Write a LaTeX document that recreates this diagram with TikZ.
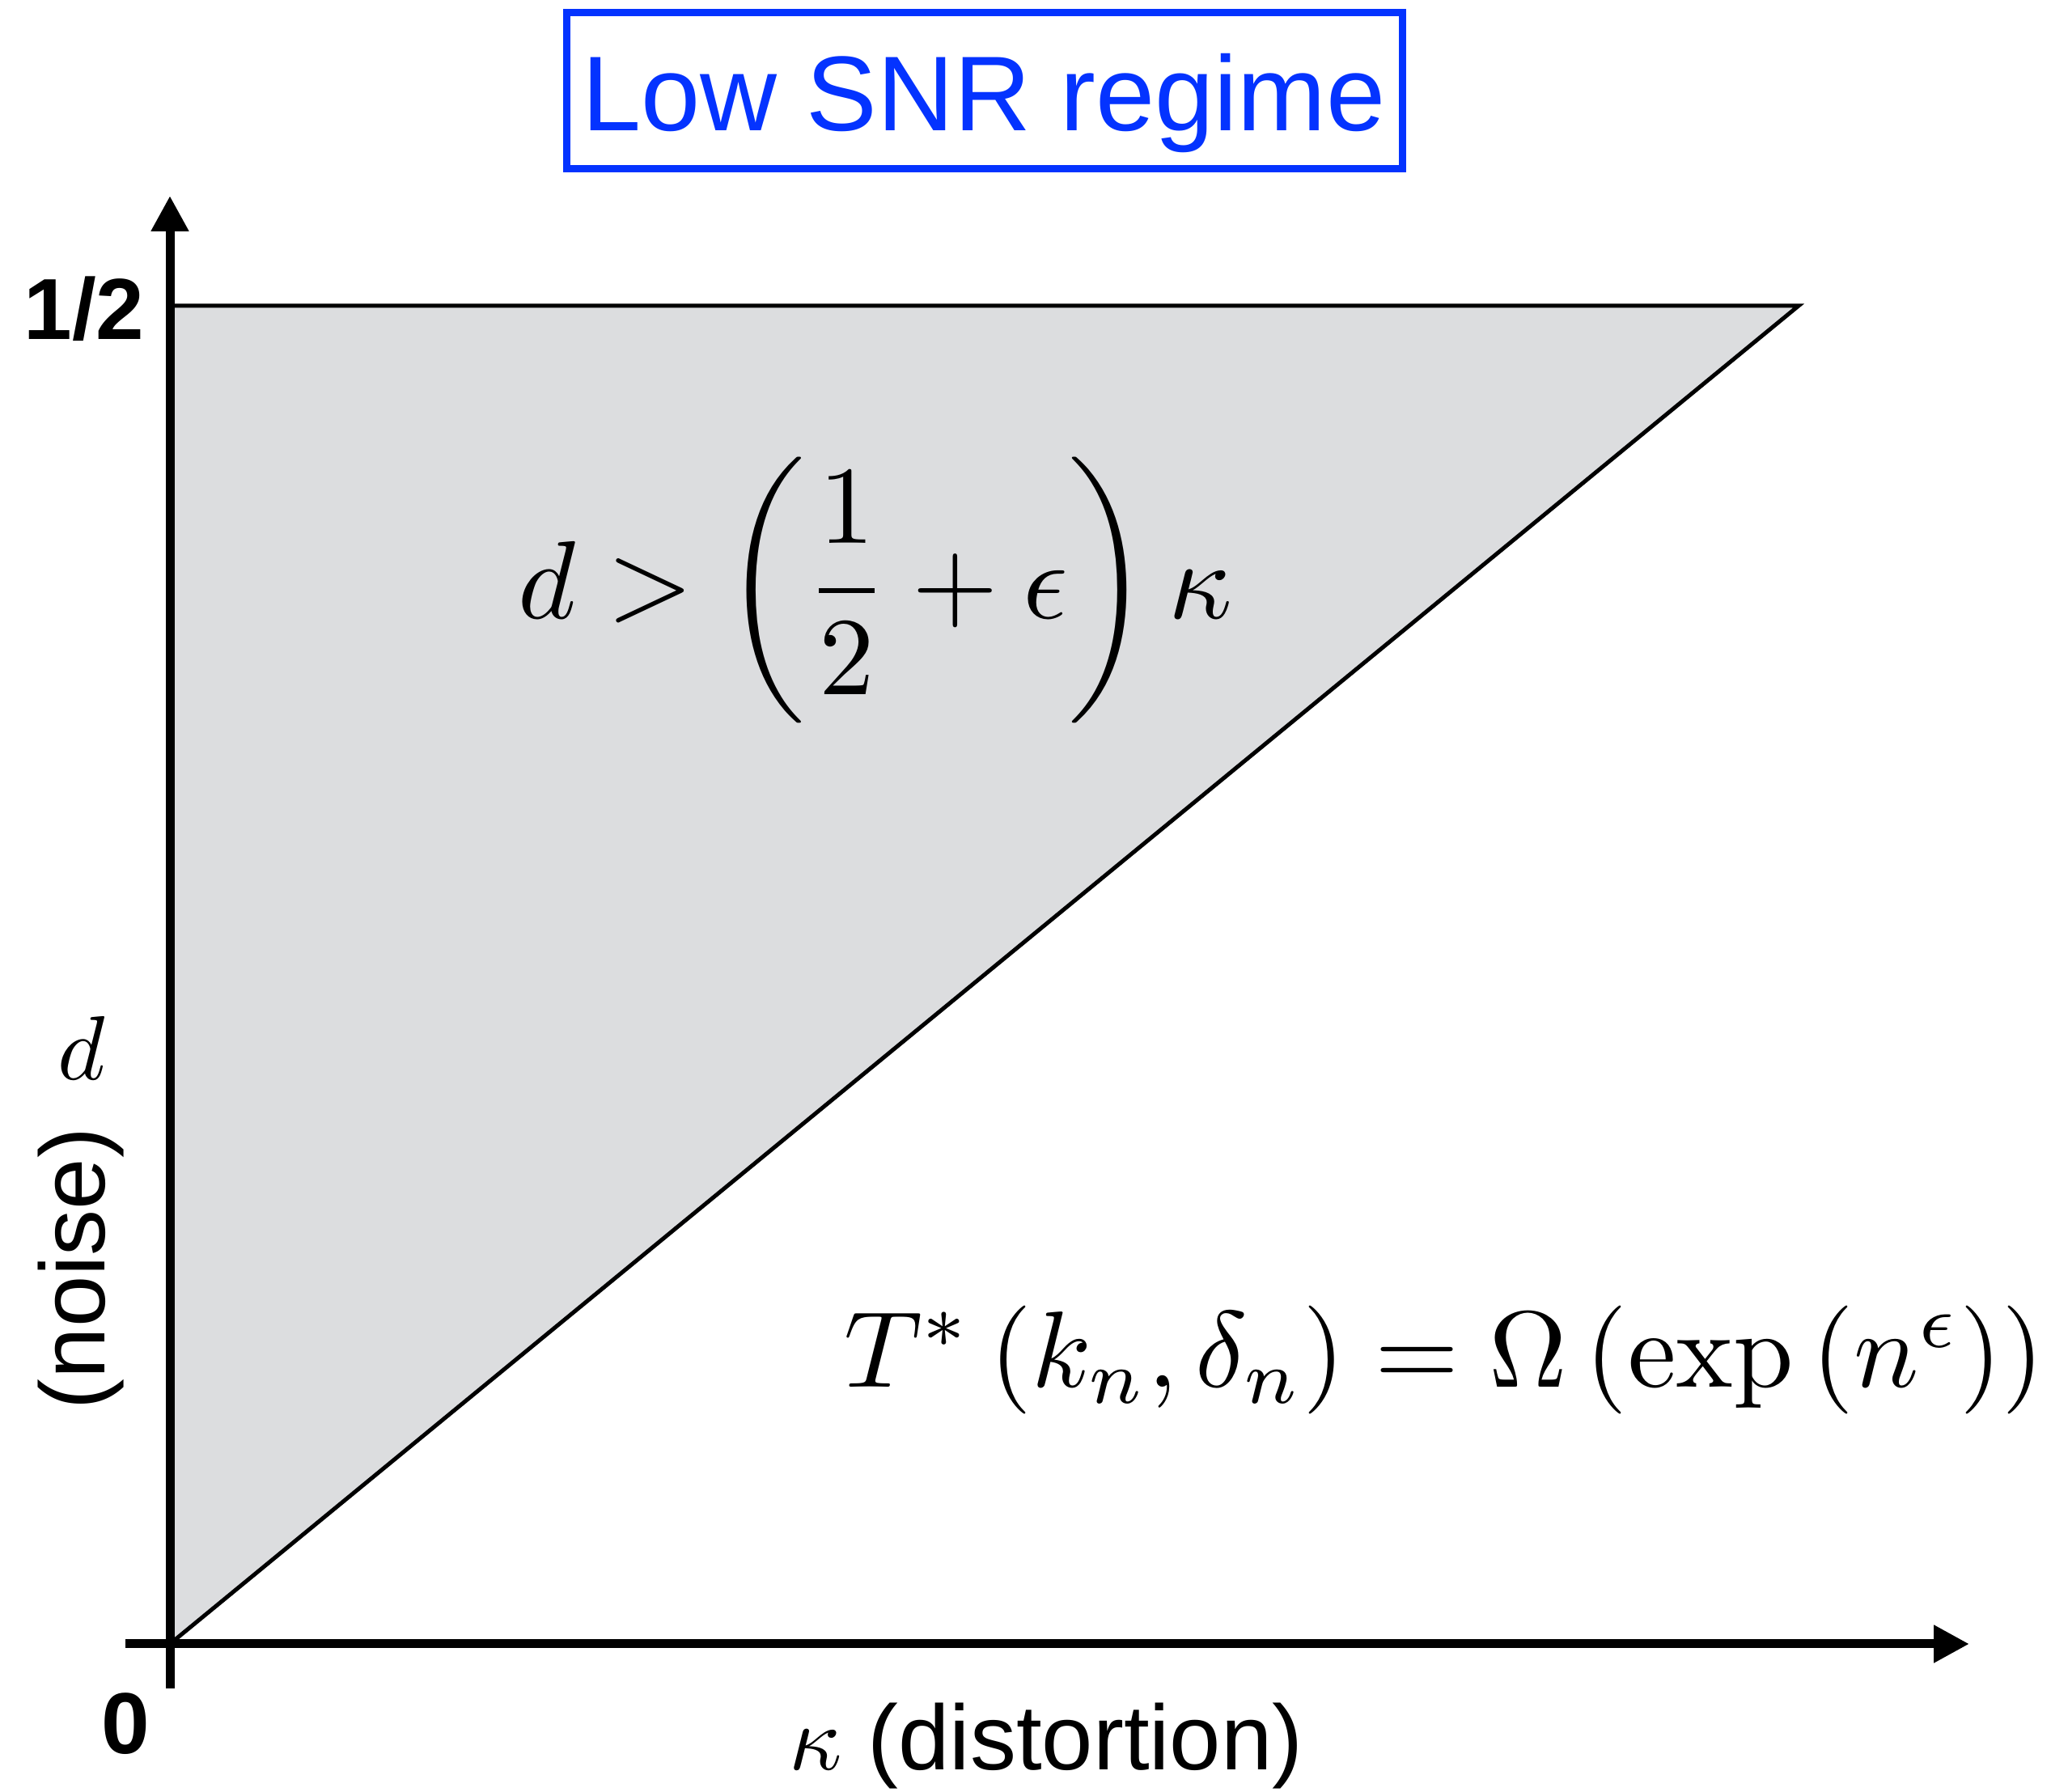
\documentclass[tikz,border=0pt]{standalone}
\usepackage{amsmath}
\usepackage{fontspec}
\newfontfamily\helv{Liberation Sans}
\usetikzlibrary{arrows.meta}
\definecolor{regionfill}{RGB}{220,221,223}
\definecolor{titleblue}{RGB}{4,51,255}
\tikzset{
  axisline/.style={line width=1.1mm,-{Triangle[length=4.4mm,width=4.4mm]}},
  edgeline/.style={line width=0.5mm,line join=miter},
  ticklbl/.style={inner sep=0pt,font=\helv\bfseries\fontsize{10}{12}\selectfont,scale=3.05,transform shape},
  axislbl/.style={inner sep=0pt,font=\helv\fontsize{10}{12}\selectfont,scale=3.24,transform shape},
  mathlbl/.style={inner sep=0pt,font=\fontsize{10}{12}\selectfont,scale=3.9,transform shape},
  titlebox/.style={draw=titleblue,line width=0.9mm,inner sep=0pt},
}
\begin{document}
\begin{tikzpicture}
\useasboundingbox (0,0) rectangle (25.35,22.15);
% key points
\coordinate (O) at (2.10,1.83);
\coordinate (ybot) at (2.10,1.28);
\coordinate (ytip) at (2.10,19.73);
\coordinate (xleft) at (1.55,1.83);
\coordinate (xtip) at (24.34,1.83);
\coordinate (TL) at (2.10,18.37);
\coordinate (TR) at (22.23,18.37);
% shaded region
\fill[regionfill] (O) -- (TL) -- (TR) -- cycle;
\draw[edgeline] (TL) -- (TR) -- (O);
% axes
\draw[axisline] (ybot) -- (ytip);
\draw[axisline] (xleft) -- (xtip);
% title
\draw[titlebox] (7.00,20.06) rectangle (17.33,21.99);
\node[anchor=base,inner sep=0pt,text=titleblue,font=\helv\fontsize{37.4}{45}\selectfont] (title) at (12.16,20.53) {Low SNR regime};
% tick labels
\node[ticklbl] (half) at (1.04,18.33) {1/2};
\node[ticklbl] (zero) at (1.55,0.84) {0};
% axis labels
\node[mathlbl,scale=3.2/3.9] (dlbl) at (1.01,9.20) {$d$};
\node[axislbl,rotate=90] (noise) at (1.00,6.47) {(noise)};
\node[axislbl] (kappa) at (12.93,0.57) {$\kappa$ (distortion)};
% formulas
\node[mathlbl] (cond) at (10.82,14.85) {$\displaystyle d > \left(\frac{1}{2}+\epsilon\right)\kappa$};
\node[mathlbl,scale=3.81/3.9] (bound) at (17.85,5.34) {$T^*\left(k_n,\delta_n\right)=\Omega\left(\exp\left(n^{\epsilon}\right)\right)$};
\end{tikzpicture}
\end{document}
